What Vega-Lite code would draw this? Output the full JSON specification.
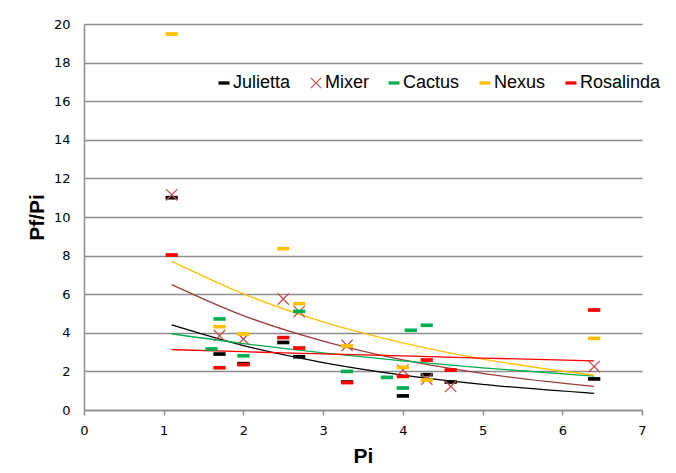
{
  "$schema": "https://vega.github.io/schema/vega-lite/v6.json",
  "width": 558,
  "height": 386,
  "autosize": {"type": "none"},
  "padding": {"left": 84, "top": 24, "right": 34, "bottom": 63},
  "background": "white",
  "config": {
    "view": {"stroke": null},
    "axis": {
      "labelFont": "DejaVu Sans",
      "labelFontSize": 13,
      "labelColor": "#000000",
      "titleFont": "Liberation Sans",
      "titleFontWeight": "bold",
      "titleFontSize": 21,
      "titleColor": "#000000",
      "domainColor": "#8c8c8c",
      "domainWidth": 1.5,
      "tickColor": "#8c8c8c",
      "tickWidth": 1.5,
      "gridColor": "#8c8c8c",
      "gridWidth": 1.3
    },
    "legend": {
      "orient": "none",
      "direction": "horizontal",
      "legendX": 131,
      "legendY": 50,
      "padding": 0,
      "labelFont": "Liberation Sans",
      "labelFontSize": 18,
      "labelColor": "#000000",
      "labelOffset": 0,
      "columnPadding": 16,
      "symbolSize": 121,
      "symbolStrokeWidth": 0
    }
  },
  "datasets": {
    "points": [
      {"series": "Julietta", "Pi": 1.1, "PfPi": 11.0},
      {"series": "Julietta", "Pi": 1.7, "PfPi": 2.9},
      {"series": "Julietta", "Pi": 2.0, "PfPi": 2.4},
      {"series": "Julietta", "Pi": 2.5, "PfPi": 3.5},
      {"series": "Julietta", "Pi": 2.7, "PfPi": 2.76},
      {"series": "Julietta", "Pi": 3.3, "PfPi": 1.45},
      {"series": "Julietta", "Pi": 4.0, "PfPi": 0.73},
      {"series": "Julietta", "Pi": 4.3, "PfPi": 1.83},
      {"series": "Julietta", "Pi": 4.6, "PfPi": 1.45},
      {"series": "Julietta", "Pi": 6.4, "PfPi": 1.61},
      {"series": "Mixer", "Pi": 1.1, "PfPi": 11.15},
      {"series": "Mixer", "Pi": 1.7, "PfPi": 3.85},
      {"series": "Mixer", "Pi": 2.0, "PfPi": 3.68},
      {"series": "Mixer", "Pi": 2.5, "PfPi": 5.75},
      {"series": "Mixer", "Pi": 2.7, "PfPi": 5.1},
      {"series": "Mixer", "Pi": 3.3, "PfPi": 3.35},
      {"series": "Mixer", "Pi": 4.0, "PfPi": 2.07},
      {"series": "Mixer", "Pi": 4.3, "PfPi": 1.6},
      {"series": "Mixer", "Pi": 4.6, "PfPi": 1.22},
      {"series": "Mixer", "Pi": 6.4, "PfPi": 2.25},
      {"series": "Cactus", "Pi": 1.6, "PfPi": 3.16},
      {"series": "Cactus", "Pi": 1.7, "PfPi": 4.72},
      {"series": "Cactus", "Pi": 2.0, "PfPi": 2.81},
      {"series": "Cactus", "Pi": 2.7, "PfPi": 5.11},
      {"series": "Cactus", "Pi": 3.3, "PfPi": 2.0},
      {"series": "Cactus", "Pi": 3.8, "PfPi": 1.69},
      {"series": "Cactus", "Pi": 4.0, "PfPi": 1.14},
      {"series": "Cactus", "Pi": 4.1, "PfPi": 4.13},
      {"series": "Cactus", "Pi": 4.3, "PfPi": 4.39},
      {"series": "Nexus", "Pi": 1.1, "PfPi": 19.48},
      {"series": "Nexus", "Pi": 1.7, "PfPi": 4.32},
      {"series": "Nexus", "Pi": 2.0, "PfPi": 3.94},
      {"series": "Nexus", "Pi": 2.5, "PfPi": 8.36},
      {"series": "Nexus", "Pi": 2.7, "PfPi": 5.51},
      {"series": "Nexus", "Pi": 3.3, "PfPi": 3.32},
      {"series": "Nexus", "Pi": 4.0, "PfPi": 2.21},
      {"series": "Nexus", "Pi": 4.3, "PfPi": 1.55},
      {"series": "Nexus", "Pi": 6.4, "PfPi": 3.71},
      {"series": "Rosalinda", "Pi": 1.1, "PfPi": 8.03},
      {"series": "Rosalinda", "Pi": 1.7, "PfPi": 2.19},
      {"series": "Rosalinda", "Pi": 2.0, "PfPi": 2.35},
      {"series": "Rosalinda", "Pi": 2.5, "PfPi": 3.75},
      {"series": "Rosalinda", "Pi": 2.7, "PfPi": 3.21},
      {"series": "Rosalinda", "Pi": 3.3, "PfPi": 1.42},
      {"series": "Rosalinda", "Pi": 4.0, "PfPi": 1.74},
      {"series": "Rosalinda", "Pi": 4.3, "PfPi": 2.59},
      {"series": "Rosalinda", "Pi": 4.6, "PfPi": 2.07},
      {"series": "Rosalinda", "Pi": 6.4, "PfPi": 5.18}
    ],
    "trends": [
      {"curve": "Julietta", "Pi": 1.1, "PfPi": 4.41},
      {"curve": "Julietta", "Pi": 2.0, "PfPi": 3.34},
      {"curve": "Julietta", "Pi": 3.0, "PfPi": 2.46},
      {"curve": "Julietta", "Pi": 4.0, "PfPi": 1.81},
      {"curve": "Julietta", "Pi": 5.0, "PfPi": 1.33},
      {"curve": "Julietta", "Pi": 6.4, "PfPi": 0.86},
      {"curve": "Mixer", "Pi": 1.1, "PfPi": 6.5},
      {"curve": "Mixer", "Pi": 2.0, "PfPi": 4.89},
      {"curve": "Mixer", "Pi": 3.0, "PfPi": 3.57},
      {"curve": "Mixer", "Pi": 4.0, "PfPi": 2.6},
      {"curve": "Mixer", "Pi": 5.0, "PfPi": 1.9},
      {"curve": "Mixer", "Pi": 6.4, "PfPi": 1.22},
      {"curve": "Cactus", "Pi": 1.1, "PfPi": 3.95},
      {"curve": "Cactus", "Pi": 2.0, "PfPi": 3.44},
      {"curve": "Cactus", "Pi": 3.0, "PfPi": 2.96},
      {"curve": "Cactus", "Pi": 4.0, "PfPi": 2.54},
      {"curve": "Cactus", "Pi": 5.0, "PfPi": 2.18},
      {"curve": "Cactus", "Pi": 6.4, "PfPi": 1.76},
      {"curve": "Nexus", "Pi": 1.1, "PfPi": 7.7},
      {"curve": "Nexus", "Pi": 2.0, "PfPi": 6.02},
      {"curve": "Nexus", "Pi": 3.0, "PfPi": 4.57},
      {"curve": "Nexus", "Pi": 4.0, "PfPi": 3.48},
      {"curve": "Nexus", "Pi": 5.0, "PfPi": 2.64},
      {"curve": "Nexus", "Pi": 6.4, "PfPi": 1.8},
      {"curve": "Rosalinda", "Pi": 1.1, "PfPi": 3.13},
      {"curve": "Rosalinda", "Pi": 2.0, "PfPi": 3.02},
      {"curve": "Rosalinda", "Pi": 3.0, "PfPi": 2.91},
      {"curve": "Rosalinda", "Pi": 4.0, "PfPi": 2.8},
      {"curve": "Rosalinda", "Pi": 5.0, "PfPi": 2.69},
      {"curve": "Rosalinda", "Pi": 6.4, "PfPi": 2.55}
    ]
  },
  "encoding": {
    "x": {
      "field": "Pi",
      "type": "quantitative",
      "scale": {"domain": [0, 7], "nice": false, "zero": false},
      "axis": {
        "title": "Pi",
        "values": [0, 1, 2, 3, 4, 5, 6, 7],
        "grid": false,
        "tickSize": 5,
        "labelPadding": 9,
        "titlePadding": 8,
        "labelFlush": false
      }
    },
    "y": {
      "field": "PfPi",
      "type": "quantitative",
      "scale": {"domain": [0, 20], "nice": false},
      "axis": {
        "title": "Pf/Pi",
        "values": [0, 2, 4, 6, 8, 10, 12, 14, 16, 18, 20],
        "grid": true,
        "ticks": false,
        "labelPadding": 14,
        "titlePadding": 6,
        "labelFlush": false
      }
    }
  },
  "layer": [
    {
      "data": {"name": "trends"},
      "mark": {"type": "line", "strokeWidth": 1.3, "interpolate": "monotone"},
      "encoding": {
        "stroke": {
          "field": "curve",
          "type": "nominal",
          "scale": {
            "range": ["#00b050", "#000000", "#9b3d3a", "#ffc000", "#ff0000"]
          },
          "legend": null
        }
      }
    },
    {
      "data": {"name": "points"},
      "mark": {"type": "point", "filled": true, "size": 150, "opacity": 1, "strokeWidth": 0},
      "encoding": {
        "color": {
          "field": "series",
          "type": "nominal",
          "scale": {
            "domain": ["Julietta", "Mixer", "Cactus", "Nexus", "Rosalinda"],
            "range": ["#000000", "#c0504d", "#00b050", "#ffc000", "#ff0000"]
          },
          "legend": {"title": null, "orient": "none", "legendX": 131, "legendY": 50, "direction": "horizontal"}
        },
        "shape": {
          "field": "series",
          "type": "nominal",
          "scale": {
            "domain": ["Julietta", "Mixer", "Cactus", "Nexus", "Rosalinda"],
            "range": [
              "M-1,-0.3L1,-0.3L1,0.3L-1,0.3Z",
              "M-1,-0.85L-0.85,-1L0,-0.15L0.85,-1L1,-0.85L0.15,0L1,0.85L0.85,1L0,0.15L-0.85,1L-1,0.85L-0.15,0Z",
              "M-1,-0.3L1,-0.3L1,0.3L-1,0.3Z",
              "M-1,-0.3L1,-0.3L1,0.3L-1,0.3Z",
              "M-1,-0.3L1,-0.3L1,0.3L-1,0.3Z"
            ]
          },
          "legend": {"title": null, "orient": "none", "legendX": 131, "legendY": 50, "direction": "horizontal"}
        }
      }
    }
  ]
}
